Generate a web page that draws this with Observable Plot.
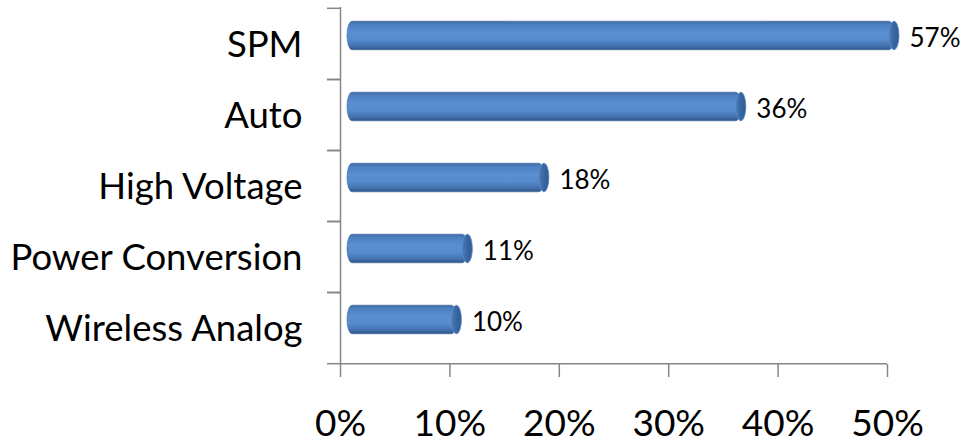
<!DOCTYPE html>
<html>
<head>
<meta charset="utf-8">
<script src="https://cdn.jsdelivr.net/npm/d3@7"></script>
<script src="https://cdn.jsdelivr.net/npm/@observablehq/plot@0.6"></script>
<style>
  html, body { margin: 0; padding: 0; background: #fff; }
  svg { display: block; }
</style>
</head>
<body>
<div id="chart"></div>
<script>
const categories = ["SPM", "Auto", "High Voltage", "Power Conversion", "Wireless Analog"];
const values = [0.57, 0.36, 0.18, 0.11, 0.10];
const xTicks = [0, 0.1, 0.2, 0.3, 0.4, 0.5];

const data = categories.map((c, i) => ({category: c, value: values[i]}));
const pct = d3.format(".0%");

const W = 961, H = 444;
const mt = 7, mb = 80, ml = 340, mr = 74;
const halfStep = (H - mt - mb) / categories.length / 2;
const inset = halfStep - 14.5;
const depthX = 7, depthY = -8;
const axisColor = "#868686";
const font = "Lato, 'Open Sans', sans-serif";

const svg = Plot.plot({
  width: W,
  height: H,
  marginTop: mt,
  marginBottom: mb,
  marginLeft: ml,
  marginRight: mr,
  style: {fontFamily: font, color: "#000", background: "#fff", overflow: "visible"},
  x: {domain: [0, 0.5], clamp: true, ticks: xTicks, tickFormat: pct, label: null},
  y: {domain: categories, padding: 0, label: null},
  marks: [
    // axis lines
    Plot.ruleX([0], {stroke: axisColor, strokeWidth: 1.5}),
    Plot.ruleY([0], {y: () => categories[categories.length - 1], dy: halfStep, stroke: axisColor, strokeWidth: 1.5}),
    // y ticks at category boundaries
    Plot.axisY({tickSize: 13, tickFormat: () => "", dy: halfStep, stroke: axisColor, strokeWidth: 1.5}),
    Plot.axisY({tickSize: 13, tickFormat: () => "", dy: -halfStep, stroke: axisColor, strokeWidth: 1.5}),
    // category labels
    Plot.axisY({tickSize: 0, tickPadding: 38, fontSize: 36.5, dy: 1, fill: "#000", stroke: null}),
    // x axis
    Plot.axisX({ticks: xTicks, tickFormat: pct, tickSize: 13, tickPadding: 32, fontSize: 37, stroke: axisColor, strokeWidth: 1.5, fill: "#000"}),
    // cylinder body
    Plot.barX(data, {
      x: "value", y: "category",
      insetTop: inset, insetBottom: inset,
      dx: depthX, dy: depthY,
      rx: 5, ry: 14.5,
      fill: "url(#cylBody)",
      stroke: "#3a659c", strokeWidth: 0.6
    }),
    // cylinder end cap
    Plot.barX(data, {
      x1: "value", x2: "value", y: "category",
      insetTop: inset, insetBottom: inset,
      insetLeft: -5, insetRight: -5,
      dx: depthX, dy: depthY,
      rx: 5, ry: 14.5,
      fill: "url(#cylCap)",
      stroke: "#5a88c4", strokeWidth: 0.8
    }),
    // value labels
    Plot.text(data, {
      x: "value", y: "category",
      text: d => pct(d.value),
      dx: depthX + 15, dy: -5,
      textAnchor: "start",
      fontSize: 26,
      fill: "#000"
    })
  ]
});

const defs = d3.select(svg).insert("defs", ":first-child");
const g1 = defs.append("linearGradient").attr("id", "cylBody")
  .attr("x1", 0).attr("y1", 0).attr("x2", 0).attr("y2", 1);
[["0%", "#3e6ba4"], ["12%", "#4c80c1"], ["40%", "#5a90d3"], ["65%", "#568bcd"], ["88%", "#416fab"], ["100%", "#2c5587"]]
  .forEach(([o, c]) => g1.append("stop").attr("offset", o).attr("stop-color", c));
const g2 = defs.append("linearGradient").attr("id", "cylCap")
  .attr("x1", 0).attr("y1", 0).attr("x2", 1).attr("y2", 0);
[["0%", "#4a7bb9"], ["45%", "#3a68a4"], ["100%", "#2f5b93"]]
  .forEach(([o, c]) => g2.append("stop").attr("offset", o).attr("stop-color", c));

document.getElementById("chart").appendChild(svg);
</script>
</body>
</html>
